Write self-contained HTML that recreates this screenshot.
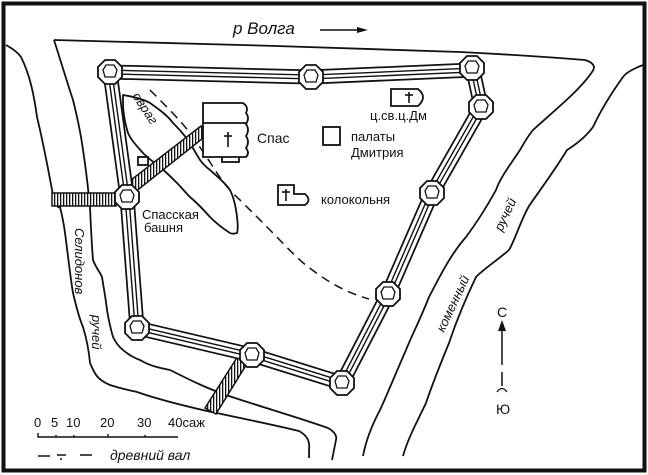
<!DOCTYPE html>
<html><head><meta charset="utf-8"><style>
html,body{margin:0;padding:0;background:#fff}
svg{display:block}
text{font-family:"Liberation Sans",sans-serif;fill:#111}
</style></head><body>
<svg width="648" height="475" viewBox="0 0 648 475" xmlns="http://www.w3.org/2000/svg">
<defs>
<pattern id="hat" width="3" height="3" patternUnits="userSpaceOnUse"><rect width="3" height="3" fill="#fff"/><rect width="1.3" height="3" fill="#111"/></pattern>
<g id="tw"><polygon points="-5,-12 5,-12 12,-5 12,5 5,12 -5,12 -12,5 -12,-5" fill="#fff" stroke="#111" stroke-width="1.8"/><polygon points="-4,-7 4,-7 7,-2 5,5 -5,5 -7,-2" fill="none" stroke="#111" stroke-width="1.3"/></g>
</defs>
<rect x="3.5" y="3.5" width="641" height="467" fill="#fff" stroke="#111" stroke-width="4"/>
<g fill="none" stroke="#111" stroke-width="1.8" stroke-linejoin="round">
<!-- top bank -->
<path d="M54,40 C150,42 350,48 460,52 C520,55 560,58 585,60 Q598,64 592,72 C580,90 555,110 533,130 C525,140 522,147 520,150 C510,165 500,178 496,190 C485,210 475,225 466,237 C450,255 438,280 429,297 C420,320 412,335 406,350 C395,375 387,395 380,410 C372,425 366,440 363,456"/>
<path d="M643,65 C630,70 625,74 623,77 C610,95 600,112 593,127 C585,138 575,145 567,150 C555,170 540,190 529,206 C520,222 515,240 509,250 C495,262 485,268 476,277 C465,300 455,325 449,343 C440,365 432,385 426,403 C418,420 408,438 403,456"/>
<!-- left river -->
<path d="M6,45 C15,50 19,54 21,57 C30,75 34,95 37,117 C45,150 50,180 54,200 C58,210 60,207 60,207 C62,215 64,225 65,233 C68,255 70,275 73,293 C77,310 80,320 83,327 C87,340 89,352 90,363 C95,375 98,380 110,385 C125,390 130,390 137,392 C160,400 185,406 207,411 C240,418 275,425 299,431 C308,436 310,442 309,450 L309,458"/>
<path d="M54,40 C62,65 68,85 73,100 C78,120 81,135 83,150 C86,170 88,185 89,200 L90,207 C91,230 92,248 93,260 C96,268 100,272 102,277 C104,290 106,300 107,310 C109,322 111,330 113,337 C116,343 119,347 123,350 C130,356 135,358 140,360 C150,366 160,368 170,370 C190,380 210,390 232,397 C265,408 300,418 328,428 C335,432 337,436 336,440 C334,450 333,455 332,460"/>
<!-- ravine -->
<path d="M123,95 C135,97 143,99 150,103 C160,110 168,116 173,123 C180,130 186,137 190,143 C194,150 197,155 200,160 C203,164 206,167 210,170 C218,177 225,183 230,190 C234,198 236,208 237,217 C238,225 238,230 237,233 C234,234 232,234 230,233 C222,228 215,222 210,217 C202,208 196,202 190,197 C185,192 181,187 177,183 C172,178 166,172 160,167 C153,162 148,158 143,153 C136,145 131,140 128,133 C125,123 123,112 123,103 Z"/>
</g>
<!-- dashed -->
<path d="M150,90 C165,105 180,120 190,133 C200,147 210,162 217,173 C225,185 232,193 240,200 C250,210 260,220 267,227 C285,245 298,260 311,269 C328,282 345,292 369,299" fill="none" stroke="#111" stroke-width="1.5" stroke-dasharray="9,6"/>
<!-- bridges -->
<g stroke="#111" stroke-width="1.5" fill="url(#hat)">
<rect x="52" y="193" width="64" height="13"/>
<polygon points="118,190 201,126 207,135 125,200"/>
<polygon points="238,356 248,362 216,414 205,408"/>
</g>
<!-- walls -->
<g fill="none" stroke-linejoin="round">
<path id="w" d="M110,72 L311,77 L473,70 L481,107 L432,193 L388,294 L342,383 L252,355 L137,328 L127,197 Z"/>
<use href="#w" stroke="#111" stroke-width="15"/>
<use href="#w" stroke="#fff" stroke-width="11.5"/>
<use href="#w" stroke="#111" stroke-width="5.2"/>
<use href="#w" stroke="#fff" stroke-width="2.4"/>
</g>
<use href="#tw" x="110" y="72"/><use href="#tw" x="311" y="77"/><use href="#tw" x="472" y="68"/>
<use href="#tw" x="481" y="107"/><use href="#tw" x="432" y="193"/><use href="#tw" x="388" y="294"/>
<use href="#tw" x="342" y="383"/><use href="#tw" x="252" y="355"/><use href="#tw" x="137" y="328"/>
<use href="#tw" x="127" y="197"/>
<!-- buildings -->
<g fill="#fff" stroke="#111" stroke-width="1.8">
<rect x="222" y="156" width="17" height="6"/>
<path d="M203,103 L243,103 Q249,107 246,113 Q250,118 246,124 Q250,130 246,136 Q250,142 246,148 Q250,153 246,157 L203,157 Z"/>
<line x1="203" y1="123" x2="247" y2="123"/>
<rect x="138" y="157" width="10" height="8"/>
<rect x="323" y="127" width="17" height="18"/>
<path d="M391,89 L418,89 Q428,97 418,106 L391,106 Z"/>
<path d="M278,185 L294,185 L294,194 L305,194 Q312,200 305,205 L278,205 Z"/>
</g>
<g stroke="#111" stroke-width="1.6"><line x1="228" y1="132" x2="228" y2="147"/><line x1="224" y1="136" x2="232" y2="136"/>
<line x1="409" y1="92" x2="409" y2="103"/><line x1="405" y1="95" x2="413" y2="95"/>
<line x1="286" y1="189" x2="286" y2="201"/><line x1="282" y1="192" x2="290" y2="192"/></g>
<!-- text -->
<text x="233" y="34" font-size="17" font-style="italic">р Волга</text>
<line x1="320" y1="30" x2="360" y2="30" stroke="#111" stroke-width="1.5"/><polygon points="368,30 357,27 357,33" fill="#111"/>
<text x="257" y="143" font-size="14">Спас</text>
<text x="351" y="141" font-size="13">палаты</text>
<text x="351" y="157" font-size="13">Дмитрия</text>
<text x="370" y="120" font-size="13">ц.св.ц.Дм</text>
<text x="321" y="204" font-size="13">колокольня</text>
<text x="142" y="219" font-size="13">Спасская</text>
<text x="144" y="232" font-size="13">башня</text>
<text transform="translate(132,96) rotate(57)" font-size="13" font-style="italic">овраг</text>
<text transform="translate(75,228) rotate(90)" font-size="13" font-style="italic">Селидонов</text>
<text transform="translate(92,315) rotate(90)" font-size="13" font-style="italic">ручей</text>
<text transform="translate(502,232) rotate(-65)" font-size="13" font-style="italic">ручей</text>
<text transform="translate(444,333) rotate(-65)" font-size="13" font-style="italic">коменный</text>
<text x="497" y="317" font-size="14">С</text>
<line x1="502" y1="328" x2="502" y2="365" stroke="#111" stroke-width="1.5"/><polygon points="502,320 498,331 506,331" fill="#111"/>
<line x1="502" y1="372" x2="502" y2="386" stroke="#111" stroke-width="1.5"/>
<path d="M497,392 Q502,385 507,392" fill="none" stroke="#111" stroke-width="1.3"/>
<text x="496" y="414" font-size="14">Ю</text>
<g font-size="13"><text x="34" y="427">0</text><text x="51" y="427">5</text><text x="66" y="427">10</text><text x="100" y="427">20</text><text x="137" y="427">30</text><text x="168" y="427">40сaж</text></g>
<path d="M38,433 L38,437 L178,437 M56,435 L56,437 M74,435 L74,437 M108,434 L108,437 M145,435 L145,437" fill="none" stroke="#111" stroke-width="1.4"/>
<path d="M38,456 L50,456 M57,455 L66,455 M60,459 L62,459 M80,455 L92,455" stroke="#111" stroke-width="1.4"/>
<text x="110" y="460" font-size="14" font-style="italic">древний вал</text>
</svg>
</body></html>
